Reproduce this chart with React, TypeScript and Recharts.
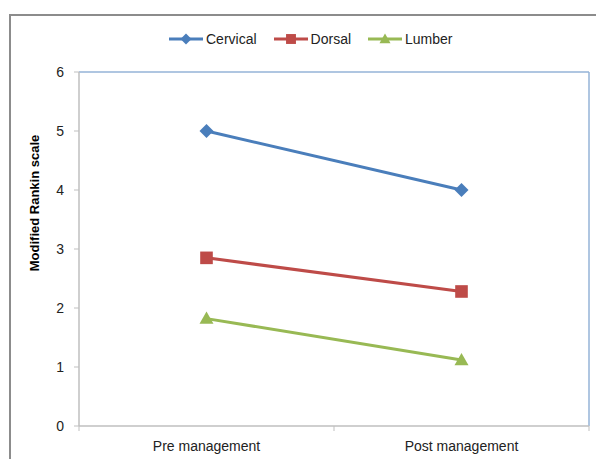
import React from 'react';
import { LineChart, Line, XAxis, YAxis, Legend, ReferenceLine } from 'recharts';

const categories = ['Pre management', 'Post management'];
const cervical = [5, 4];
const dorsal = [2.85, 2.28];
const lumber = [1.82, 1.12];
const yTicks = [0, 1, 2, 3, 4, 5, 6];
const xTicks = [0, 0.5, 1, 1.5, 2];

const series = [
  { key: 'cervical', name: 'Cervical', color: '#4A7EBB', shape: 'diamond' },
  { key: 'dorsal', name: 'Dorsal', color: '#BE4B48', shape: 'square' },
  { key: 'lumber', name: 'Lumber', color: '#98B954', shape: 'triangle' },
];

const data = categories.map((name, i) => ({
  name,
  pos: i + 0.5,
  cervical: cervical[i],
  dorsal: dorsal[i],
  lumber: lumber[i],
}));

const FONT = '"Liberation Sans", Arial, sans-serif';

const Marker = ({ shape, cx, cy, color, r }: any) => {
  if (shape === 'diamond') {
    return (
      <polygon
        points={`${cx},${cy - r} ${cx + r},${cy} ${cx},${cy + r} ${cx - r},${cy}`}
        fill={color}
      />
    );
  }
  if (shape === 'square') {
    const s = r * 0.9;
    return <rect x={cx - s} y={cy - s} width={s * 2} height={s * 2} fill={color} />;
  }
  return (
    <polygon
      points={`${cx},${cy - r} ${cx + r},${cy + r * 0.75} ${cx - r},${cy + r * 0.75}`}
      fill={color}
    />
  );
};

const XTick = (props: any) => {
  const { x, y, payload } = props;
  const v = payload.value;
  if (Number.isInteger(v)) {
    return <line x1={x} x2={x} y1={y} y2={y + 5} stroke="#BFBFBF" strokeWidth={1} />;
  }
  return (
    <text x={x} y={y + 15} dy="0.71em" textAnchor="middle" fontSize={14} fontFamily={FONT} fill="#222">
      {categories[Math.floor(v)]}
    </text>
  );
};

const LegendContent = () => (
  <div style={{ display: 'flex', alignItems: 'center', fontFamily: FONT, fontSize: 14, color: '#222' }}>
    {series.map((s) => (
      <span key={s.key} style={{ display: 'inline-flex', alignItems: 'center', marginRight: 17 }}>
        <svg width={34} height={14}>
          <line x1={0} x2={34} y1={7} y2={7} stroke={s.color} strokeWidth={3} />
          <Marker shape={s.shape} cx={17} cy={7} color={s.color} r={5.5} />
        </svg>
        <span style={{ marginLeft: 3 }}>{s.name}</span>
      </span>
    ))}
  </div>
);

export default function App() {
  return (
    <div style={{ position: 'absolute', left: 0, top: 0, width: 596, height: 459, background: '#fff', overflow: 'hidden' }}>
      <div
        style={{
          position: 'absolute',
          left: 9,
          top: 14,
          width: 640,
          height: 500,
          borderLeft: '2px solid #8C8C8C',
          borderTop: '2px solid #8C8C8C',
        }}
      />
      <div style={{ position: 'absolute', left: 0, top: 0 }}>
        <LineChart width={596} height={459} data={data} margin={{ top: 72, right: 7, bottom: 3, left: 29 }}>
          <XAxis
            dataKey="pos"
            type="number"
            domain={[0, 2]}
            ticks={xTicks}
            interval={0}
            height={30}
            tickLine={false}
            tickSize={0}
            tickMargin={0}
            axisLine={{ stroke: '#BFBFBF', strokeWidth: 1.5 }}
            tick={<XTick />}
          />
          <YAxis
            type="number"
            domain={[0, 6]}
            ticks={yTicks}
            interval={0}
            width={50}
            tickSize={5}
            tickMargin={10}
            axisLine={{ stroke: '#BFBFBF', strokeWidth: 1.5 }}
            tickLine={{ stroke: '#BFBFBF' }}
            tick={{ fontSize: 14, fontFamily: FONT, fill: '#222' }}
            label={{
              value: 'Modified Rankin scale',
              angle: -90,
              position: 'center',
              dx: -20,
              dy: -46,
              style: { fontSize: 13, fontWeight: 'bold', fontFamily: FONT, fill: '#000', textAnchor: 'middle' },
            }}
          />
          <ReferenceLine y={6} stroke="#95B3D7" strokeWidth={1.5} />
          <ReferenceLine x={2} stroke="#95B3D7" strokeWidth={1.5} />
          <Legend
            verticalAlign="middle"
            align="center"
            layout="horizontal"
            wrapperStyle={{ top: 31, left: 169, width: 320 }}
            content={<LegendContent />}
          />
          {series.map((s) => (
            <Line
              key={s.key}
              dataKey={s.key}
              name={s.name}
              stroke={s.color}
              strokeWidth={3}
              isAnimationActive={false}
              dot={(p: any) => (
                <Marker key={`${s.key}-${p.index}`} shape={s.shape} cx={p.cx} cy={p.cy} color={s.color} r={7} />
              )}
              activeDot={false}
            />
          ))}
        </LineChart>
      </div>
    </div>
  );
}
